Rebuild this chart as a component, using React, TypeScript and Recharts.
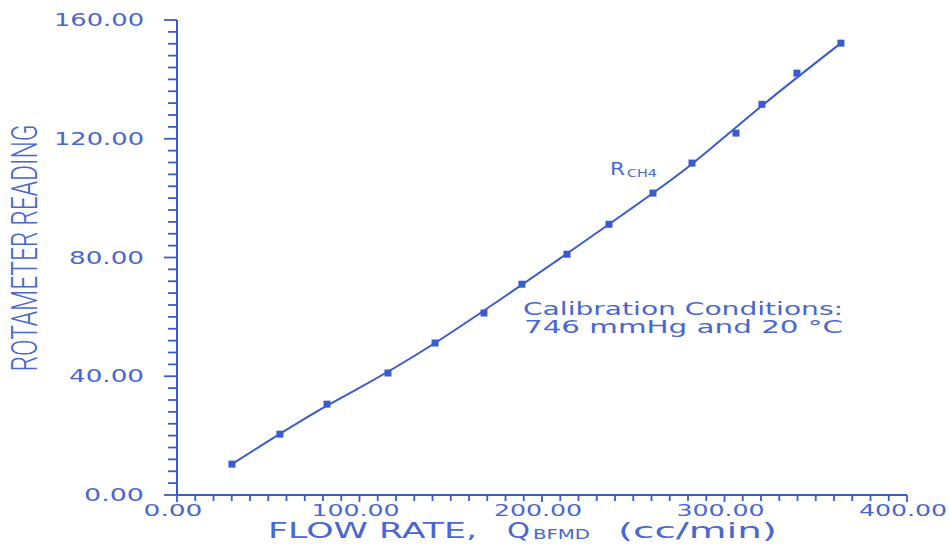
import React from 'react';
import { ComposedChart, Line, XAxis, YAxis } from 'recharts';

// Flow rate Q_BFMD (cc/min) and rotameter readings (square markers)
const flowRate = [30.1, 56.4, 82.2, 115.6, 141.4, 168.2, 189.0, 213.7, 236.7, 260.8, 282.2, 306.3, 320.5, 339.7, 363.8];
const reading = [10.4, 20.5, 30.6, 41.1, 51.2, 61.3, 71.0, 81.1, 91.2, 101.7, 111.8, 121.9, 131.6, 142.1, 152.2];
// smooth calibration curve R_CH4 (drawn line) at a few flow rates
const curveFlow = [30.1, 82.2, 141.4, 236.7, 282.2, 320.5, 363.8];
const curveReading = [10.4, 30.1, 51.2, 91.2, 111.5, 131.1, 152.2];

const xMajorTicks = [0, 100, 200, 300, 400];
const yMajorTicks = [0, 40, 80, 120, 160];
const X_MINOR_STEP = 10;
const Y_MINOR_STEP = 4;

const xTicks: number[] = [];
for (let v = 0; v <= 400; v += X_MINOR_STEP) xTicks.push(v);
const yTicks: number[] = [];
for (let v = 0; v <= 160; v += Y_MINOR_STEP) yTicks.push(v);

const pointData = flowRate.map((x, i) => ({ x, reading: reading[i] }));
const curveData = curveFlow.map((x, i) => ({ x, curve: curveReading[i] }));

const BLUE = '#3a5bcb';
const TEXT = '#4867cf';
const FONT = '"DejaVu Sans", sans-serif';

const YTick = (props: any) => {
  const { x, y, payload } = props;
  const v = payload.value as number;
  const major = yMajorTicks.includes(v);
  const label = v.toFixed(2);
  return (
    <g>
      <line x1={x - (major ? 13 : 9)} x2={x} y1={y} y2={y} stroke={BLUE} strokeWidth={1.8} />
      {major && (
        <text x={x - 33} y={y + 6} textAnchor="end" fill={TEXT} fontFamily={FONT} fontSize={17}
          textLength={label.length * 15} lengthAdjust="spacingAndGlyphs">{label}</text>
      )}
    </g>
  );
};

const XTick = (props: any) => {
  const { x, y, payload } = props;
  const v = payload.value as number;
  const major = xMajorTicks.includes(v);
  const label = v.toFixed(2);
  return (
    <g>
      <line x1={x} x2={x} y1={y} y2={y + (major ? 7 : 6)} stroke={BLUE} strokeWidth={1.8} />
      {major && (
        <text x={x - 4} y={y + 21} textAnchor="middle" fill={TEXT} fontFamily={FONT} fontSize={16}
          textLength={label.length * 14.7} lengthAdjust="spacingAndGlyphs">{label}</text>
      )}
    </g>
  );
};

const SquareDot = (props: any) => {
  const { cx, cy } = props;
  if (cx == null || cy == null) return null;
  return <rect x={cx - 3.5} y={cy - 3.5} width={7} height={7} fill={BLUE} />;
};

export default function App() {
  return (
    <div style={{ position: 'absolute', left: 0, top: 0, width: 950, height: 546, background: '#fff' }}>
      <ComposedChart width={950} height={546}
        margin={{ top: 20, right: 43, bottom: 0, left: 0 }}>
        <XAxis dataKey="x" type="number" domain={[0, 400]} ticks={xTicks} interval={0}
          height={51} tickSize={0} tickMargin={0} tick={<XTick />} tickLine={false}
          axisLine={{ stroke: BLUE, strokeWidth: 2 }} allowDataOverflow />
        <YAxis type="number" domain={[0, 160]} ticks={yTicks} interval={0}
          width={177} tickSize={0} tickMargin={0} tick={<YTick />} tickLine={false}
          axisLine={{ stroke: BLUE, strokeWidth: 2 }} allowDataOverflow />
        <Line data={curveData} dataKey="curve" type="natural" stroke={BLUE} strokeWidth={2} dot={false}
          activeDot={false} isAnimationActive={false} />
        <Line data={pointData} dataKey="reading" stroke="none" dot={<SquareDot />} activeDot={false}
          legendType="none" isAnimationActive={false} />
      </ComposedChart>
      <svg width={950} height={546} style={{ position: 'absolute', left: 0, top: 0, pointerEvents: 'none' }}>
        <text transform="translate(37,248) rotate(-90)" textAnchor="middle" fill={TEXT}
          fontFamily='Roboto, "DejaVu Sans Condensed", sans-serif' fontWeight={300} fontSize={36}
          textLength={247} lengthAdjust="spacingAndGlyphs">ROTAMETER READING</text>

        <text x={268} y={538} fill={TEXT} fontFamily={FONT} fontSize={21}
          textLength={209} lengthAdjust="spacingAndGlyphs">FLOW RATE,</text>
        <text x={507} y={538} fill={TEXT} fontFamily={FONT} fontSize={21}
          textLength={23} lengthAdjust="spacingAndGlyphs">Q</text>
        <text x={533} y={539} fill={TEXT} fontFamily={FONT} fontSize={14}
          textLength={57} lengthAdjust="spacingAndGlyphs">BFMD</text>
        <text x={618} y={538} fill={TEXT} fontFamily={FONT} fontSize={21}
          textLength={159} lengthAdjust="spacingAndGlyphs">(cc/min)</text>

        <text x={610} y={175} fill={TEXT} fontFamily={FONT} fontSize={18}
          textLength={15} lengthAdjust="spacingAndGlyphs">R</text>
        <text x={627} y={177} fill={TEXT} fontFamily={FONT} fontSize={11}
          textLength={30} lengthAdjust="spacingAndGlyphs">CH4</text>

        <text x={523} y={315} fill={TEXT} fontFamily={FONT} fontSize={18}
          textLength={320} lengthAdjust="spacingAndGlyphs">Calibration Conditions:</text>
        <text x={524} y={333} fill={TEXT} fontFamily={FONT} fontSize={18}
          textLength={319} lengthAdjust="spacingAndGlyphs">746 mmHg and 20 °C</text>
      </svg>
    </div>
  );
}
